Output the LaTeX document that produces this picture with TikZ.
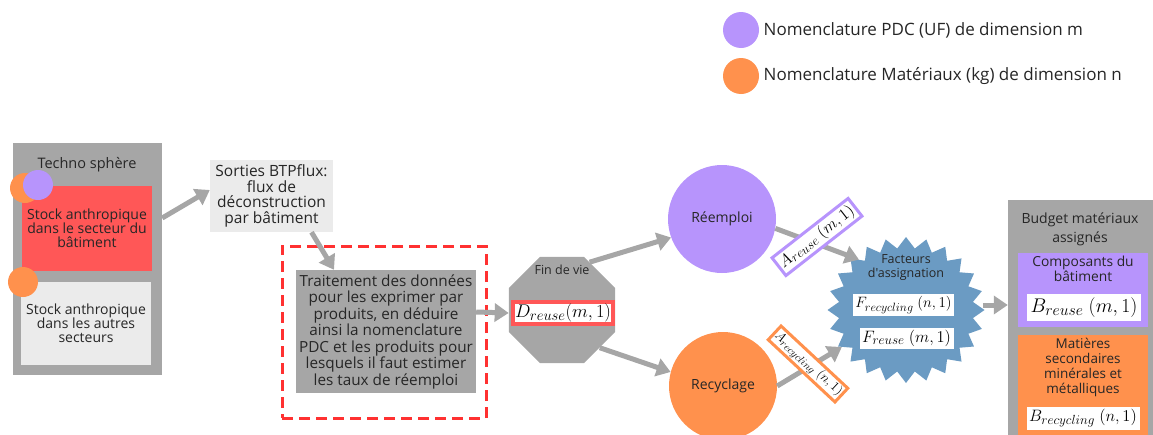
\RequirePackage{fix-cm}
\documentclass[tikz,border=0pt]{standalone}
\usepackage{fontspec}
\setmainfont{Open Sans}[Ligatures=TeXOff]
\usepackage{amsmath}
\usepackage{xcolor}
\usepackage{tikz}
\usetikzlibrary{arrows.meta,positioning,shapes.geometric,shapes.symbols}
\DeclareMathSizes{18.4}{18.4}{14.7}{11}
\DeclareMathSizes{15}{15}{12}{9}
\DeclareMathSizes{16.5}{16.5}{13.2}{10}
\DeclareMathSizes{13.2}{13.2}{10.6}{8}
\DeclareMathSizes{19.8}{19.8}{15.8}{12}
\definecolor{pdccol}{HTML}{B794FC}
\definecolor{matcol}{HTML}{FF914D}
\definecolor{stockcol}{HTML}{FF5757}
\definecolor{boxgray}{HTML}{A6A6A6}
\definecolor{palegray}{HTML}{EBEBEB}
\definecolor{factcol}{HTML}{6B9BC3}
\definecolor{dashcol}{HTML}{FF3131}
\definecolor{txtcol}{HTML}{262626}
\newcommand{\fsz}[2]{\fontsize{#1}{#2}\selectfont}
\tikzset{
  panel/.style={
    rectangle, fill=#1, inner sep=0pt,
    text centered, align=center, text=txtcol,
  },
  dot/.style={circle, fill=#1, inner sep=0pt, minimum size=30pt},
  bigdot/.style={
    circle, fill=#1, inner sep=0pt, minimum size=108pt,
    font=\fsz{14}{16}, text=txtcol,
  },
  mathbox/.style={
    rectangle, fill=white, draw=#1, inner sep=3pt,
  },
  mathbox/.default={white},
  tagbox/.style={
    rectangle, fill=white, draw=#1, line width=3pt, inner sep=3pt,
  },
  arr/.style={-{Triangle[length=14pt,width=18pt]}, line width=5pt, draw=boxgray},
  caption/.style={text=txtcol, align=center},
}

\begin{document}
\begin{tikzpicture}[x=1pt,y=-1pt]
\useasboundingbox (0,0) rectangle (1153,434);

% ===== Legend =====
\node[dot=pdccol, minimum size=36pt] (legpdc) at (741,30) {};
\node[right=1pt of legpdc, font=\fsz{17}{19}, text=txtcol] (legpdctext) {Nomenclature PDC (UF) de dimension m};
\node[dot=matcol, minimum size=36pt] (legmat) at (741,76) {};
\node[right=1pt of legmat, font=\fsz{17}{19}, text=txtcol] (legmattext) {Nomenclature Matériaux (kg) de dimension n};

% ===== Techno sphere =====
\node[panel=boxgray, minimum width=149pt, minimum height=232pt] (techno) at (87.5,259) {};
\node[caption, font=\fsz{14.5}{16}] (technotitle) at (87,165) {Techno sphère};
\node[panel=stockcol, minimum width=130pt, minimum height=85pt, font=\fsz{14}{14}] (stockbat) at (87,228.5)
  {Stock anthropique\\dans le secteur du\\bâtiment};
\node[panel=palegray, minimum width=130pt, minimum height=83pt, font=\fsz{14}{14}] (stockautre) at (86,323.5)
  {Stock anthropique\\dans les autres\\secteurs};
\node[dot=matcol] (dotmatbat) at (25,188) {};
\node[dot=pdccol] (dotpdcbat) at (38,185) {};
\node[dot=matcol] (dotmatautre) at (23,282) {};

% ===== Sorties / traitement =====
\node[panel=palegray, minimum width=123pt, minimum height=72pt, font=\fsz{15.5}{15.7}] (sorties) at (271.5,196)
  {Sorties BTPflux:\\flux de\\déconstruction\\par bâtiment};
\node[draw=dashcol, line width=3pt, dash pattern=on 11pt off 6pt, minimum width=204pt, minimum height=172pt] (zone) at (384,332) {};
\node[panel=boxgray, minimum width=180pt, minimum height=123pt, font=\fsz{15.3}{16.5}] (traitement) at (386,331.5)
  {Traitement des données\\pour les exprimer par\\produits, en déduire\\ainsi la nomenclature\\PDC et les produits pour\\lesquels il faut estimer\\les taux de réemploi};

\draw[arr] ([yshift=41pt]techno.east) -- ([yshift=6pt]sorties.west);
\draw[arr] ([xshift=40pt]sorties.south) -- ([xshift=-52pt]traitement.north);

% ===== Fin de vie =====
\node[regular polygon, regular polygon sides=8, fill=boxgray, minimum size=115pt] (findevie) at (562,310) {};
\node[caption, font=\fsz{12.5}{14}] (findevietitle) at (562,270) {Fin de vie};
\node[mathbox=stockcol, line width=4pt, inner sep=2pt, font=\fsz{18.4}{20}] (dreuse) at (563,313) {$D_{reuse}(m,1)$};
\draw[arr] ([yshift=19.5pt]traitement.east) -- (findevie.west |- dreuse);

\node[bigdot=pdccol] (reemploi) at (722,219) {Réemploi};
\node[bigdot=matcol] (recyclage) at (723,386) {Recyclage};
\draw[arr] (findevie.60) -- (reemploi.200);
\draw[arr] (findevie.-45) -- (recyclage.165);

% ===== Facteurs =====
\node[starburst, starburst points=24, starburst point height=11pt, random starburst=0,
  fill=factcol, minimum width=157pt, minimum height=146pt] (facteurs) at (906,310) {};
\node[caption, font=\fsz{12.5}{14}] (facteurstitle) at (906,268) {Facteurs\\d'assignation};
\node[mathbox, inner sep=2pt, font=\fsz{15}{17}] (frecycling) at (903.5,305) {$F_{recycling}\ (n,1)$};
\node[mathbox, inner sep=2pt, font=\fsz{16.5}{19}] (freuse) at (906.5,338) {$F_{reuse}\ (m,1)$};

\draw[arr] (reemploi.-10) -- (facteurs.133);
\draw[arr] (recyclage.0) -- (facteurs.210);
\node[tagbox=pdccol, rotate=38, font=\fsz{16.5}{19}] (areuse) at (817,237) {$A_{reuse}\ (m,1)$};
\node[tagbox=matcol, rotate=-43, inner sep=2pt, font=\fsz{13.2}{15}] (arecycling) at (808,364) {$A_{recycling}\ (n,1)$};

% ===== Budget =====
\node[panel=boxgray, minimum width=150pt, minimum height=250pt] (budget) at (1083,325) {};
\node[caption, font=\fsz{14}{19}] (budgettitle) at (1080,229) {Budget matériaux\\assignés};
\node[panel=pdccol, minimum width=130pt, minimum height=74pt] (composants) at (1083,290) {};
\node[caption, font=\fsz{13.8}{15}] (composantstitle) at (1083,269) {Composants du\\bâtiment};
\node[mathbox, font=\fsz{19.8}{22}] (breuse) at (1084,307.5) {$B_{reuse}\ (m,1)$};
\node[panel=matcol, minimum width=130pt, minimum height=110pt] (matieres) at (1083,390) {};
\node[caption, font=\fsz{13.5}{15}] (matierestitle) at (1083,367) {Matières\\secondaires\\minérales et\\métalliques};
\node[mathbox, inner sep=2pt, font=\fsz{16.5}{19}] (brecycling) at (1083,418) {$B_{recycling}\ (n,1)$};

\draw[arr] ([xshift=-2pt]facteurs.east |- frecycling) -- (budget.west |- frecycling);

\end{tikzpicture}
\end{document}
